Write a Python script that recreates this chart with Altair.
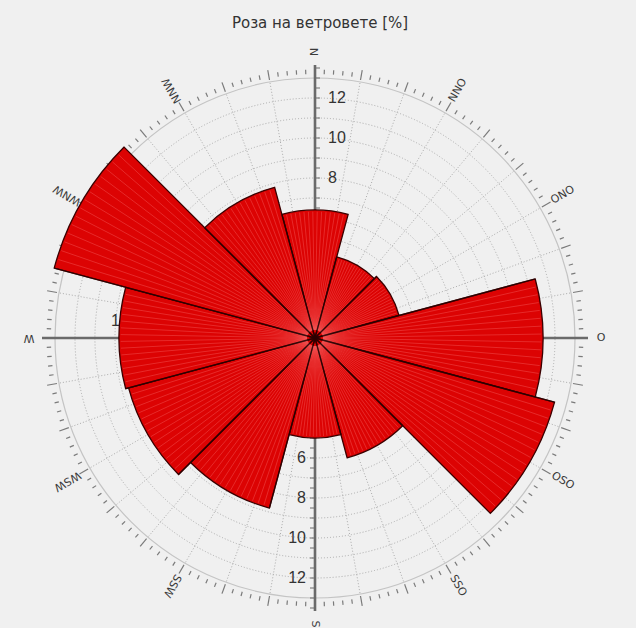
import math
import altair as alt
import pandas as pd

# Wind rose: share of time (%) per 30° direction sector, clockwise from north
directions = ["N", "NNO", "ONO", "O", "OSO", "SSO", "S", "SSW", "WSW", "W", "WNW", "NNW"]
sector_centers = [0, 30, 60, 90, 120, 150, 180, 210, 240, 270, 300, 330]
frequency = [6.4, 4.2, 4.35, 11.4, 12.4, 6.2, 5.0, 8.8, 9.65, 9.8, 13.5, 7.8]
sector_half = 15

grid_radii = list(range(1, 13))
outer_ring = [13]
spoke_angles = list(range(0, 360, 10))
tick_angles = list(range(0, 360, 2))
axis_tick_steps = [i / 2 for i in range(1, 28)]
north_labels = [6, 8, 10, 12]
south_labels = [6, 8, 10, 12]
west_labels = [6, 8, 10]
title_text = "Роза на ветровете [%]"

W, H = 636, 628
CX, CY = 315, 338
UNIT = 20          # pixels per percent
AXIS_LEN = 13.65
LABEL_R = 14.3

xs = alt.Scale(domain=[-CX / UNIT, (W - CX) / UNIT], range=[0, W], nice=False, zero=False)
ys = alt.Scale(domain=[-(H - CY) / UNIT, CY / UNIT], range=[H, 0], nice=False, zero=False)
ts = alt.Scale(domain=[0, 360], range=[0, 2 * math.pi])
rs = alt.Scale(type="linear", domain=[0, 14], range=[0, 14 * UNIT], zero=True)

GRID = "#ababab"
AXIS = "#6a6a6a"
TEXT = "#333333"


def radial_rule(df, r0, r1, **mark):
    """Rules from radius r0 to r1 along angle field 'a' (degrees, clockwise from north)."""
    return alt.Chart(df).transform_calculate(
        px0=f"({r0})*sin(datum.a*PI/180)",
        py0=f"({r0})*cos(datum.a*PI/180)",
        px1=f"({r1})*sin(datum.a*PI/180)",
        py1=f"({r1})*cos(datum.a*PI/180)",
    ).mark_rule(**mark).encode(
        x=alt.X("px0:Q", scale=xs, axis=None),
        y=alt.Y("py0:Q", scale=ys, axis=None),
        x2="px1:Q",
        y2="py1:Q",
    )


# dotted grid circles and the solid outer ring
circles_df = pd.DataFrame({"r": grid_radii, "t0": 0, "t1": 360})
circles = alt.Chart(circles_df).mark_arc(
    fill="transparent", stroke=GRID, strokeDash=[1, 2], strokeWidth=1
).encode(
    theta=alt.Theta("t0:Q", scale=ts), theta2="t1:Q",
    radius=alt.Radius("r:Q", scale=rs),
    x=alt.value(CX), y=alt.value(CY),
)
ring_df = pd.DataFrame({"r": outer_ring, "t0": 0, "t1": 360})
ring = alt.Chart(ring_df).mark_arc(
    fill="transparent", stroke="#c4c4c4", strokeWidth=1.2
).encode(
    theta=alt.Theta("t0:Q", scale=ts), theta2="t1:Q",
    radius=alt.Radius("r:Q", scale=rs),
    x=alt.value(CX), y=alt.value(CY),
)

# dotted spokes every 10°
spokes = radial_rule(pd.DataFrame({"a": spoke_angles}), 0, "13",
                     color=GRID, strokeDash=[1, 2], strokeWidth=1)

# compass ticks outside the ring
ticks_df = pd.DataFrame({"a": tick_angles})
ticks_df["major"] = ticks_df["a"] % 10 == 0
ticks_df["r0"] = ticks_df["major"].map({True: 13.1, False: 13.2})
ticks_df["r1"] = ticks_df["major"].map({True: 13.6, False: 13.42})
ring_ticks = radial_rule(ticks_df, "datum.r0", "datum.r1", color="#7a7a7a", strokeWidth=1.2)

# main N-S / W-O axes
axes = radial_rule(pd.DataFrame({"a": [0, 90, 180, 270]}), 0, str(AXIS_LEN),
                   color=AXIS, strokeWidth=2.6)

# small ticks along the N and S axes
north_ticks = alt.Chart(pd.DataFrame({"r": axis_tick_steps})).transform_calculate(
    x0="0", x1="0.25"
).mark_rule(color=AXIS, strokeWidth=1).encode(
    x=alt.X("x0:Q", scale=xs, axis=None), x2="x1:Q",
    y=alt.Y("r:Q", scale=ys, axis=None),
)
south_ticks = alt.Chart(pd.DataFrame({"r": axis_tick_steps})).transform_calculate(
    x0="-0.25", x1="0", ny="-datum.r"
).mark_rule(color=AXIS, strokeWidth=1).encode(
    x=alt.X("x0:Q", scale=xs, axis=None), x2="x1:Q",
    y=alt.Y("ny:Q", scale=ys, axis=None),
)

num_style = dict(font="Liberation Sans", fontSize=16, color=TEXT, baseline="middle")
north_text = alt.Chart(pd.DataFrame({"v": north_labels})).transform_calculate(
    x0="0"
).mark_text(align="left", dx=13, **num_style).encode(
    x=alt.X("x0:Q", scale=xs, axis=None),
    y=alt.Y("v:Q", scale=ys, axis=None),
    text="v:Q",
)
south_text = alt.Chart(pd.DataFrame({"v": south_labels})).transform_calculate(
    x0="0", ny="-datum.v"
).mark_text(align="right", dx=-9, **num_style).encode(
    x=alt.X("x0:Q", scale=xs, axis=None),
    y=alt.Y("ny:Q", scale=ys, axis=None),
    text="v:Q",
)
west_text = alt.Chart(pd.DataFrame({"v": west_labels})).transform_calculate(
    y0="0", nx="-datum.v"
).mark_text(align="center", dx=5, dy=-17, **num_style).encode(
    x=alt.X("nx:Q", scale=xs, axis=None),
    y=alt.Y("y0:Q", scale=ys, axis=None),
    text="v:Q",
)

# sector bars
bars_df = pd.DataFrame({
    "dir": directions,
    "start": [c - sector_half for c in sector_centers],
    "end": [c + sector_half for c in sector_centers],
    "value": frequency,
})
bars = alt.Chart(bars_df).mark_arc(
    fill="#dc0303", stroke="#3a0000", strokeWidth=1.3, strokeJoin="miter"
).encode(
    theta=alt.Theta("start:Q", scale=ts), theta2="end:Q",
    radius=alt.Radius("value:Q", scale=rs),
    x=alt.value(CX), y=alt.value(CY),
)

# light radial streaks inside each bar, every 2°
streak_rows = []
for c, v in zip(sector_centers, frequency):
    for off in range(-13, 14, 2):
        streak_rows.append({"a": c + off, "r": v})
streaks = radial_rule(pd.DataFrame(streak_rows), 0.4, "datum.r - 0.08",
                      color="#ff8080", strokeWidth=0.9, opacity=0.35)

# darker sector boundaries converging on the centre
edges = radial_rule(bars_df.assign(a=bars_df["start"]), 0, "datum.value",
                    color="#2a0000", strokeWidth=1.3, opacity=0.8)

# direction labels, written radially outward
dir_df = pd.DataFrame({"label": directions, "a": sector_centers})
dir_labels = alt.Chart(dir_df).transform_calculate(
    lx=f"{LABEL_R}*sin(datum.a*PI/180)",
    ly=f"{LABEL_R}*cos(datum.a*PI/180)",
    rot="(datum.a + 270) % 360",
).mark_text(font="DejaVu Sans", fontSize=11, color="#3a3a3a",
            align="center", baseline="middle").encode(
    x=alt.X("lx:Q", scale=xs, axis=None),
    y=alt.Y("ly:Q", scale=ys, axis=None),
    angle=alt.Angle("rot:Q", scale=None),
    text="label:N",
)

title = alt.Chart(pd.DataFrame({"t": [title_text]})).mark_text(
    font="DejaVu Sans", fontSize=15, color=TEXT, align="center", baseline="middle"
).encode(x=alt.value(320), y=alt.value(23), text="t:N")

chart = alt.layer(
    circles, ring, spokes, ring_ticks, axes, north_ticks, south_ticks,
    north_text, south_text, west_text,
    bars, streaks, edges, dir_labels, title,
).properties(
    width=W, height=H, padding=0, autosize="none", background="#f0f0f0"
).configure_view(stroke=None)

chart.save("out.html", embed_options={"renderer": "svg", "actions": False})
